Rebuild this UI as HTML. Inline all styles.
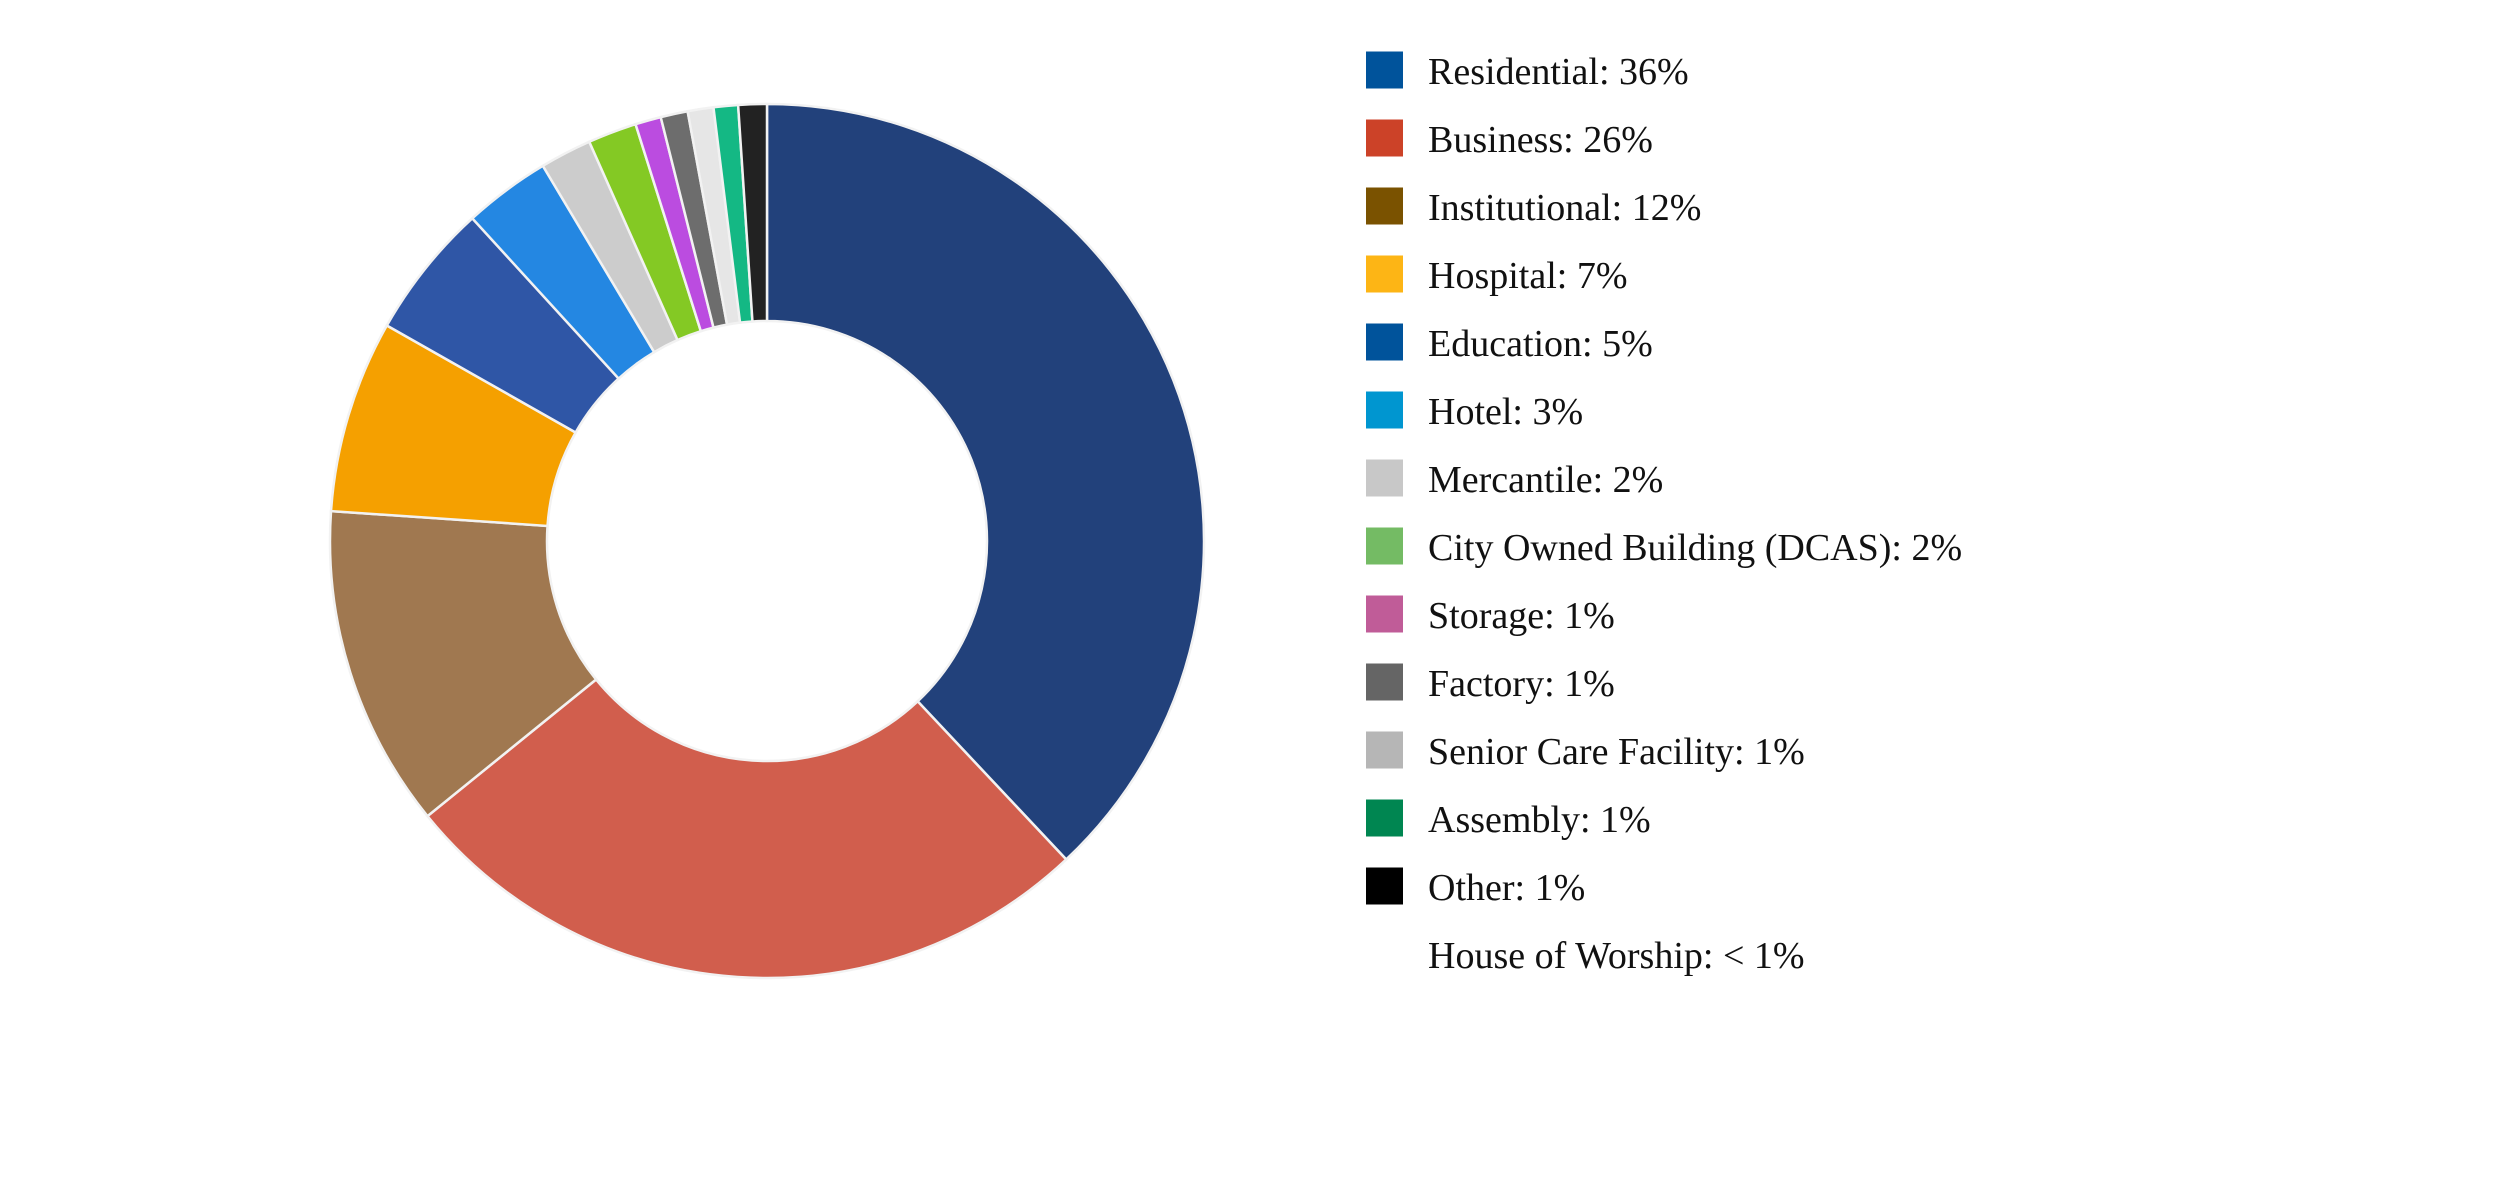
<!DOCTYPE html>
<html><head><meta charset="utf-8"><style>
html,body{margin:0;padding:0;background:#fff;}
svg{display:block;}
</style></head><body>
<svg id="chart" width="2500" height="1195" viewBox="0 0 2500 1195" xmlns="http://www.w3.org/2000/svg">
<g id="slices"></g>
<g id="legend"></g>
</svg>
<script>
const categories = ["Residential","Business","Institutional","Hospital","Education","Hotel","Mercantile","City Owned Building (DCAS)","Storage","Factory","Senior Care Facility","Assembly","Other","House of Worship"];
const sliceValues = [37.9,26.1,11.9,7.1,5.0,3.2,1.9,1.8,0.95,1.0,0.95,0.9,1.05,0.0];
const legendLabels = ["36%","26%","12%","7%","5%","3%","2%","2%","1%","1%","1%","1%","1%","< 1%"];
const sliceColors = ["#22417b","#d15e4d","#a07850","#f5a000","#2f56a6","#2487e2","#cccccc","#84c924","#bb4ce0","#6d6d6d","#e6e6e6","#14b884","#222222","#ffffff"];
const legendColors = ["#00539b","#cc4228","#7a5200","#fdb515","#00539b","#0096d0","#c8c8c8","#74bb64","#c05c98","#656565","#b6b6b6","#008651","#000000",null];

const NS="http://www.w3.org/2000/svg";
const cx=767, cy=541, R=437, r0=220;
const total=sliceValues.reduce((a,b)=>a+b,0);
function angleScale(v){return v/total*2*Math.PI;}
function pt(rad,a){return [cx+rad*Math.sin(a), cy-rad*Math.cos(a)];}
const gS=document.getElementById('slices');
let a0=0;
sliceValues.forEach((v,i)=>{
  if(v<=0) return;
  const a1=a0+angleScale(v);
  const large=(a1-a0)>Math.PI?1:0;
  const p1=pt(R,a0),p2=pt(R,a1),p3=pt(r0,a1),p4=pt(r0,a0);
  const d=`M${p1[0]},${p1[1]} A${R},${R} 0 ${large} 1 ${p2[0]},${p2[1]} L${p3[0]},${p3[1]} A${r0},${r0} 0 ${large} 0 ${p4[0]},${p4[1]} Z`;
  const p=document.createElementNS(NS,'path');
  p.setAttribute('d',d);
  p.setAttribute('fill',sliceColors[i]);
  p.setAttribute('stroke','#f2f2f2');
  p.setAttribute('stroke-width','2.5');
  
  
  gS.appendChild(p);
  a0=a1;
});
const gL=document.getElementById('legend');
const lx=1366, ly0=70, step=68, sq=37;
categories.forEach((c,i)=>{
  const y=ly0+i*step;
  const g=document.createElementNS(NS,'g');
  
  
  if(legendColors[i]){
    const s=document.createElementNS(NS,'rect');
    s.setAttribute('x',lx);s.setAttribute('y',y-sq/2);s.setAttribute('width',sq);s.setAttribute('height',sq);
    s.setAttribute('fill',legendColors[i]);
    
    
    g.appendChild(s);
  }
  const t=document.createElementNS(NS,'text');
  t.setAttribute('x',1428);t.setAttribute('y',y+14);
  t.setAttribute('font-family','"Liberation Serif", serif');
  t.setAttribute('font-size','38');
  t.setAttribute('fill','#111');
  
  
  t.textContent=c+': '+legendLabels[i];
  g.appendChild(t);
  gL.appendChild(g);
});
</script>
</body></html>
